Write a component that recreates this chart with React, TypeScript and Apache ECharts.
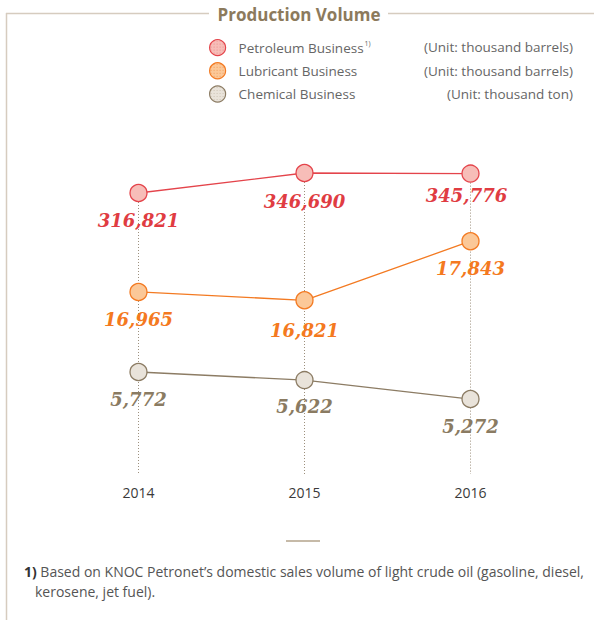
import React, { useEffect, useRef } from "react";
import * as echarts from "echarts";

const years = ["2014", "2015", "2016"];
const seriesNames = ["Petroleum Business", "Lubricant Business", "Chemical Business"];
const units = ["(Unit: thousand barrels)", "(Unit: thousand barrels)", "(Unit: thousand ton)"];
const petroleum = [316821, 346690, 345776];
const lubricant = [16965, 16821, 17843];
const chemical = [5772, 5622, 5272];
const footnote1 = "Based on KNOC Petronet\u2019s domestic sales volume of light crude oil (gasoline, diesel,";
const footnote2 = "kerosene, jet fuel).";

function makePattern(base: string, dot: string) {
  const c = document.createElement("canvas");
  c.width = 3;
  c.height = 3;
  const ctx = c.getContext("2d")!;
  ctx.fillStyle = base;
  ctx.fillRect(0, 0, 3, 3);
  ctx.fillStyle = dot;
  ctx.fillRect(1, 1, 1, 1);
  return { image: c.toDataURL(), repeat: "repeat", imageWidth: 3, imageHeight: 3 } as any;
}

const FONT = "'Open Sans', sans-serif";
const SERIF = "'DejaVu Serif', serif";

export default function App() {
  const ref = useRef<HTMLDivElement>(null);
  useEffect(() => {
    if (!ref.current) return;
    const chart = echarts.init(ref.current, undefined, { renderer: "svg" });
    const styles = [
      { line: "#e4444b", label: "#e03c42", fill: makePattern("#f7bdb8", "#ea8f8b") },
      { line: "#f37a22", label: "#f47920", fill: makePattern("#fbc898", "#f29c5a") },
      { line: "#8c7c64", label: "#8a7b62", fill: makePattern("#e9e3da", "#cdc3b4") },
    ];
    const datas = [petroleum, lubricant, chemical];
    const labelOffsets: number[][][] = [
      [[0, 0], [0, 1], [-4, -5]],
      [[0, 0], [0, 3], [0, 0]],
      [[0, 0], [0, -1], [0, 0]],
    ];
    const mkSeries = (k: number) => ({
      name: seriesNames[k],
      type: "line",
      yAxisIndex: k,
      z: 3,
      symbol: "circle",
      symbolSize: 17,
      lineStyle: { color: styles[k].line, width: 1.3 },
      itemStyle: { color: styles[k].fill, borderColor: styles[k].line, borderWidth: 1.3 },
      label: {
        show: true,
        position: "bottom",
        distance: 9,
        color: styles[k].label,
        fontFamily: SERIF,
        fontWeight: "bold",
        fontStyle: "italic",
        fontSize: 18,
        formatter: (p: any) => Number(p.value).toLocaleString("en-US"),
      },
      data: datas[k].map((v, i) => ({ value: v, label: { offset: labelOffsets[k][i] } })),
    });
    const P_MIN = -102853;
    chart.setOption({
      animation: false,
      grid: { left: 55.5, right: 40.5, top: 100, bottom: 146 },
      xAxis: {
        type: "category",
        data: years,
        axisLine: { show: false },
        axisTick: { show: false },
        axisLabel: { color: "#3a3a3a", fontSize: 14, fontFamily: FONT, margin: 11 },
      },
      yAxis: [
        { type: "value", show: false, min: P_MIN, max: 455716 },
        { type: "value", show: false, min: 13816, max: 20286 },
        { type: "value", show: false, min: 3885, max: 10804 },
      ],
      legend: {
        orient: "vertical",
        left: 209,
        top: 39,
        padding: 0,
        itemWidth: 16,
        itemHeight: 16,
        itemGap: 6,
        icon: "circle",
        selectedMode: false,
        data: seriesNames.map((n, k) => ({
          name: n,
          itemStyle: { color: styles[k].fill, borderColor: styles[k].line, borderWidth: 1.2 },
        })),
        formatter: (name: string) =>
          name === seriesNames[0] ? `{n|${name}}{s|1)}` : `{n|${name}}`,
        textStyle: {
          color: "#666",
          fontSize: 13.5,
          lineHeight: 16,
          fontFamily: FONT,
          padding: [0, 0, 0, 8],
          rich: {
            n: { color: "#666", fontSize: 13.5, lineHeight: 16, fontFamily: FONT },
            s: { color: "#666", fontSize: 7, lineHeight: 16, fontFamily: FONT, verticalAlign: "top", padding: [0, 0, 0, 1] },
          },
        },
      },
      series: [
        mkSeries(0),
        mkSeries(1),
        mkSeries(2),
        {
          name: "guides",
          type: "line",
          yAxisIndex: 0,
          data: [],
          markLine: {
            silent: true,
            z: 1,
            symbol: ["none", "circle"],
            symbolSize: [0, 3],
            label: { show: false },
            lineStyle: { type: [1, 2], color: "#9c8f7c", width: 1 },
            itemStyle: { color: "#8c7c64" },
            data: years.map((_, i) => [
              { coord: [i, petroleum[i]] },
              { coord: [i, P_MIN] },
            ]),
          },
        },
      ],
      graphic: [
        { type: "line", shape: { x1: 6, y1: 13.5, x2: 209, y2: 13.5 }, style: { stroke: "#d6ccbf", lineWidth: 1.5 } },
        { type: "line", shape: { x1: 388, y1: 13.5, x2: 594, y2: 13.5 }, style: { stroke: "#d6ccbf", lineWidth: 1.5 } },
        { type: "line", shape: { x1: 6.5, y1: 13, x2: 6.5, y2: 620 }, style: { stroke: "#d6ccbf", lineWidth: 1.5 } },
        {
          type: "text",
          x: 299,
          y: 14,
          style: {
            text: "Production Volume",
            align: "center",
            verticalAlign: "middle",
            fill: "#8c7a5c",
            fontSize: 17,
            fontWeight: "bold",
            fontFamily: FONT,
          },
        },
        ...units.map((u, k) => ({
          type: "text",
          x: 573,
          y: 47 + k * 23.5,
          style: { text: u, align: "right", verticalAlign: "middle", fill: "#666", fontSize: 13.5, fontFamily: FONT },
        })),
        { type: "line", shape: { x1: 286, y1: 541, x2: 320, y2: 541 }, style: { stroke: "#b3a38b", lineWidth: 1.5 } },
        {
          type: "text",
          x: 24,
          y: 571,
          style: {
            text: `{b|1)} ${footnote1}`,
            verticalAlign: "middle",
            fill: "#555",
            fontSize: 14,
            fontFamily: FONT,
            rich: { b: { fontWeight: "bold", fill: "#333", fontSize: 14, fontFamily: FONT } },
          },
        },
        {
          type: "text",
          x: 35,
          y: 591,
          style: { text: footnote2, verticalAlign: "middle", fill: "#555", fontSize: 14, fontFamily: FONT },
        },
      ],
    });
    return () => chart.dispose();
  }, []);
  return <div ref={ref} style={{ position: "absolute", left: 0, top: 0, width: 594, height: 620 }} />;
}
